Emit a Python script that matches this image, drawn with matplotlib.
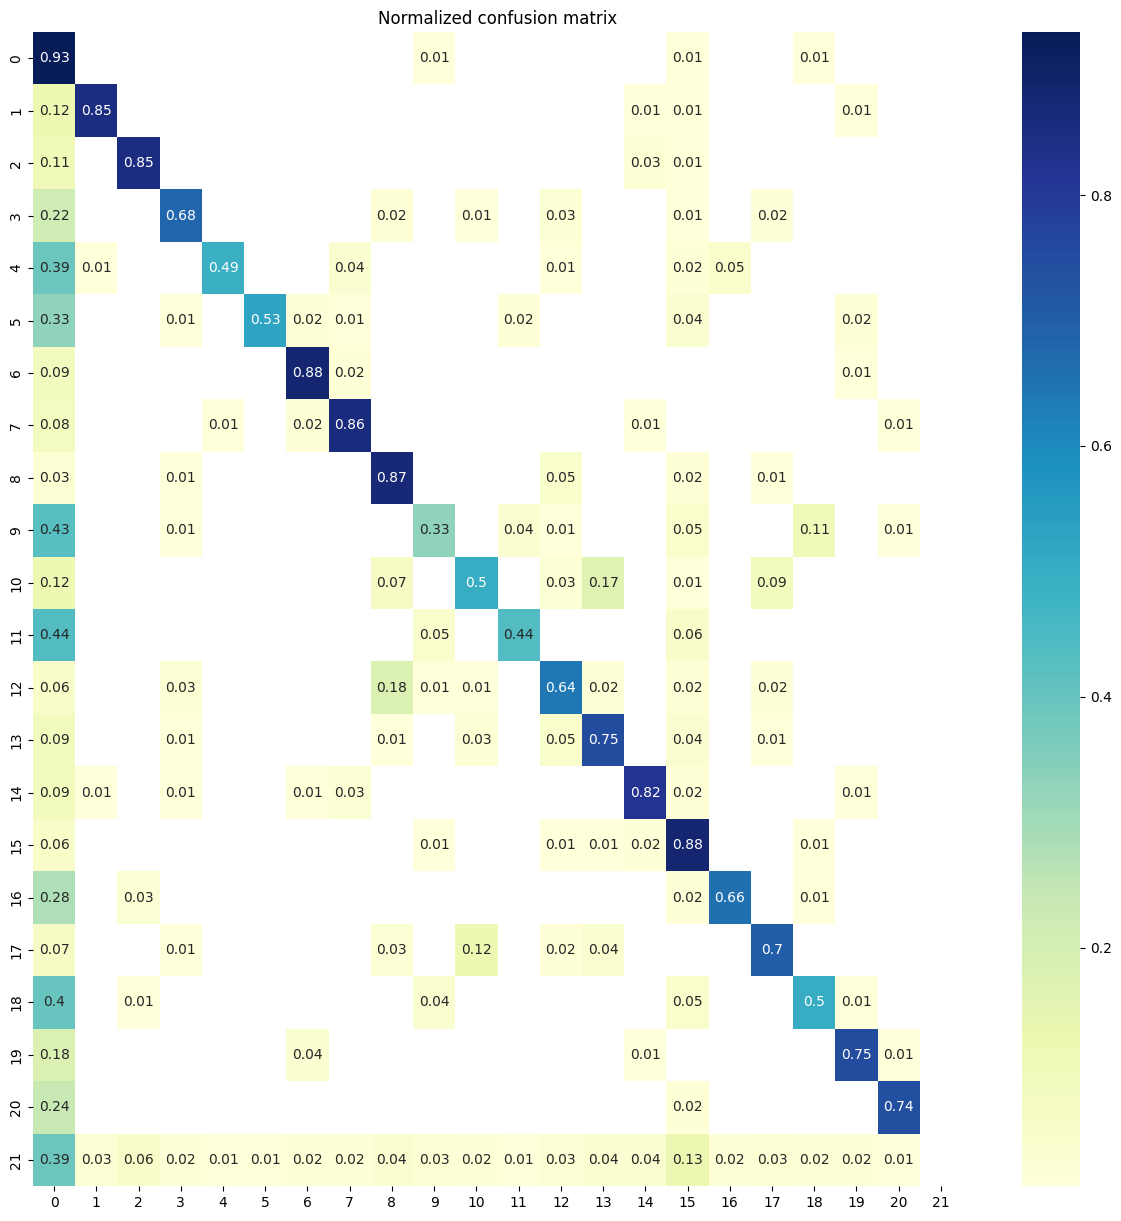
import numpy as np
import matplotlib
matplotlib.use('Agg')
import matplotlib.pyplot as plt
import seaborn as sns

# clases 0..21
labels = [str(i) for i in range(22)]

# matriz de confusion normalizada (0 = celda vacia)
row_00 = [0.93, 0, 0, 0, 0, 0, 0, 0, 0, 0.01, 0, 0, 0, 0, 0, 0.01, 0, 0, 0.01, 0, 0, 0]
row_01 = [0.12, 0.85, 0, 0, 0, 0, 0, 0, 0, 0, 0, 0, 0, 0, 0.01, 0.01, 0, 0, 0, 0.01, 0, 0]
row_02 = [0.11, 0, 0.85, 0, 0, 0, 0, 0, 0, 0, 0, 0, 0, 0, 0.03, 0.01, 0, 0, 0, 0, 0, 0]
row_03 = [0.22, 0, 0, 0.68, 0, 0, 0, 0, 0.02, 0, 0.01, 0, 0.03, 0, 0, 0.01, 0, 0.02, 0, 0, 0, 0]
row_04 = [0.39, 0.01, 0, 0, 0.49, 0, 0, 0.04, 0, 0, 0, 0, 0.01, 0, 0, 0.02, 0.05, 0, 0, 0, 0, 0]
row_05 = [0.33, 0, 0, 0.01, 0, 0.53, 0.02, 0.01, 0, 0, 0, 0.02, 0, 0, 0, 0.04, 0, 0, 0, 0.02, 0, 0]
row_06 = [0.09, 0, 0, 0, 0, 0, 0.88, 0.02, 0, 0, 0, 0, 0, 0, 0, 0, 0, 0, 0, 0.01, 0, 0]
row_07 = [0.08, 0, 0, 0, 0.01, 0, 0.02, 0.86, 0, 0, 0, 0, 0, 0, 0.01, 0, 0, 0, 0, 0, 0.01, 0]
row_08 = [0.03, 0, 0, 0.01, 0, 0, 0, 0, 0.87, 0, 0, 0, 0.05, 0, 0, 0.02, 0, 0.01, 0, 0, 0, 0]
row_09 = [0.43, 0, 0, 0.01, 0, 0, 0, 0, 0, 0.33, 0, 0.04, 0.01, 0, 0, 0.05, 0, 0, 0.11, 0, 0.01, 0]
row_10 = [0.12, 0, 0, 0, 0, 0, 0, 0, 0.07, 0, 0.5, 0, 0.03, 0.17, 0, 0.01, 0, 0.09, 0, 0, 0, 0]
row_11 = [0.44, 0, 0, 0, 0, 0, 0, 0, 0, 0.05, 0, 0.44, 0, 0, 0, 0.06, 0, 0, 0, 0, 0, 0]
row_12 = [0.06, 0, 0, 0.03, 0, 0, 0, 0, 0.18, 0.01, 0.01, 0, 0.64, 0.02, 0, 0.02, 0, 0.02, 0, 0, 0, 0]
row_13 = [0.09, 0, 0, 0.01, 0, 0, 0, 0, 0.01, 0, 0.03, 0, 0.05, 0.75, 0, 0.04, 0, 0.01, 0, 0, 0, 0]
row_14 = [0.09, 0.01, 0, 0.01, 0, 0, 0.01, 0.03, 0, 0, 0, 0, 0, 0, 0.82, 0.02, 0, 0, 0, 0.01, 0, 0]
row_15 = [0.06, 0, 0, 0, 0, 0, 0, 0, 0, 0.01, 0, 0, 0.01, 0.01, 0.02, 0.88, 0, 0, 0.01, 0, 0, 0]
row_16 = [0.28, 0, 0.03, 0, 0, 0, 0, 0, 0, 0, 0, 0, 0, 0, 0, 0.02, 0.66, 0, 0.01, 0, 0, 0]
row_17 = [0.07, 0, 0, 0.01, 0, 0, 0, 0, 0.03, 0, 0.12, 0, 0.02, 0.04, 0, 0, 0, 0.7, 0, 0, 0, 0]
row_18 = [0.4, 0, 0.01, 0, 0, 0, 0, 0, 0, 0.04, 0, 0, 0, 0, 0, 0.05, 0, 0, 0.5, 0.01, 0, 0]
row_19 = [0.18, 0, 0, 0, 0, 0, 0.04, 0, 0, 0, 0, 0, 0, 0, 0.01, 0, 0, 0, 0, 0.75, 0.01, 0]
row_20 = [0.24, 0, 0, 0, 0, 0, 0, 0, 0, 0, 0, 0, 0, 0, 0, 0.02, 0, 0, 0, 0, 0.74, 0]
row_21 = [0.39, 0.03, 0.06, 0.02, 0.01, 0.01, 0.02, 0.02, 0.04, 0.03, 0.02, 0.01,
          0.03, 0.04, 0.04, 0.13, 0.02, 0.03, 0.02, 0.02, 0.01, 0]

cm = np.array([row_00, row_01, row_02, row_03, row_04, row_05, row_06, row_07,
               row_08, row_09, row_10, row_11, row_12, row_13, row_14, row_15,
               row_16, row_17, row_18, row_19, row_20, row_21])

fig = plt.figure(figsize=(11.21, 12.21), dpi=100)
ax = fig.add_axes([33/1121, 35/1221, 929/1121, 1154/1221])
cax = fig.add_axes([1022/1121, 35/1221, 58/1121, 1154/1221])

sns.heatmap(cm, mask=(cm == 0), annot=True, fmt='.2g', cmap='YlGnBu',
            xticklabels=labels, yticklabels=labels, ax=ax, cbar_ax=cax)
ax.set_title('Normalized confusion matrix')
ax.set_yticklabels(labels, rotation=90, va='center')
ax.set_xticklabels(labels, rotation=0)
cax.set_yticks([0.2, 0.4, 0.6, 0.8])

fig.savefig('out.png', dpi=100)
